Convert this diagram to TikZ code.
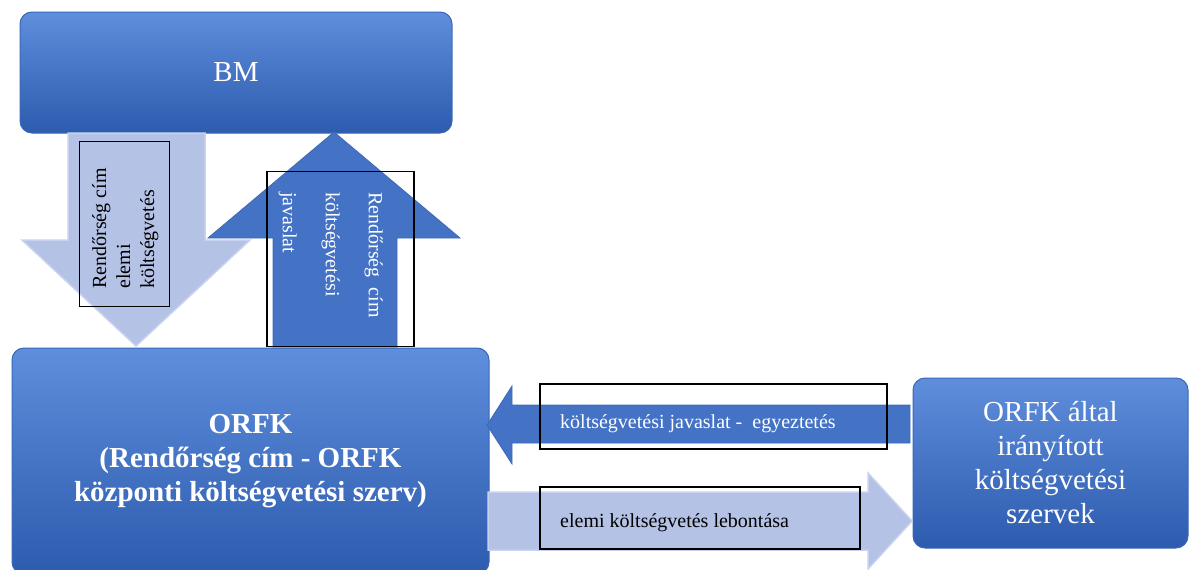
\documentclass[tikz,border=0pt]{standalone}
\usepackage{fontspec}
\setmainfont{Liberation Serif}
\definecolor{boxtop}{HTML}{5E8EDC}
\definecolor{boxbot}{HTML}{2D5BAE}
\definecolor{boxedge}{HTML}{3A67B8}
\definecolor{darkarr}{HTML}{4472C4}
\definecolor{darkedge}{HTML}{3E6AB8}
\definecolor{lightarr}{HTML}{B4C2E6}
\definecolor{lightedge}{HTML}{C8D2EE}
\tikzset{
  bluebox/.style={rounded corners=12pt, top color=boxtop, bottom color=boxbot, draw=boxedge, line width=1pt, text=white, align=center, inner sep=0pt, font=\fontsize{29}{34}\selectfont},
  darkarrow/.style={fill=darkarr, draw=darkedge, line width=0.8pt},
  lightarrow/.style={fill=lightarr, draw=lightedge, line width=1.5pt},
  labelframe/.style={draw=black, line width=1.2pt, inner sep=0pt},
  smalltext/.style={font=\fontsize{20}{24}\selectfont, inner sep=0pt},
}
\begin{document}
\begin{tikzpicture}[x=1pt,y=-1pt]
\useasboundingbox (0,0) rectangle (1192,570);
% boxes
\node[bluebox, minimum width=432pt, minimum height=121pt] (bm) at (236,72.5) {BM};
\node[bluebox, minimum width=477pt, minimum height=226pt] (orfk) at (250.5,461) {\bfseries ORFK\\\bfseries (Rendőrség cím - ORFK\\\bfseries központi költségvetési szerv)};
\node[bluebox, minimum width=275pt, minimum height=170pt] (sub) at (1050.5,463) {ORFK által\\irányított\\költségvetési\\szervek};
% vertical block arrows
\draw[lightarrow] (68,133) -- (205,133) -- (205,240) -- (250,240) -- (136,346) -- (22,240) -- (68,240) -- cycle;
\draw[darkarrow] (334,132) -- (460,238) -- (397,238) -- (397,347) -- (273,347) -- (273,238) -- (208,238) -- cycle;
% horizontal block arrows
\draw[darkarrow] (910,405) -- (512,405) -- (512,386) -- (487,425) -- (512,464) -- (512,443) -- (910,443) -- cycle;
\draw[lightarrow] (488,492) -- (868,492) -- (868,473) -- (912,521) -- (868,569) -- (868,550) -- (488,550) -- cycle;
% label frames
\node[labelframe, minimum width=90pt, minimum height=165pt] (f1) at (124.5,224) {};
\node[labelframe, minimum width=147pt, minimum height=175pt] (f2) at (340.5,259) {};
\node[labelframe, minimum width=347pt, minimum height=65pt] (f3) at (713.5,416.5) {};
\node[labelframe, minimum width=320pt, minimum height=62pt] (f4) at (700,518) {};
% labels
\node[smalltext, rotate=90, anchor=north west, align=left] (t1) at (92,289) {Rendőrség cím\\elemi\\költségvetés};
\node[smalltext, font=\fontsize{20}{43}\selectfont, text=white, rotate=-90, anchor=north west, align=left] (t2) at (383,192) {Rendőrség\ \ cím\\költségvetési\\javaslat};
\node[smalltext, text=white, anchor=west] (t3) at (560,424) {költségvetési javaslat -\ \ egyeztetés};
\node[smalltext, anchor=west] (t4) at (560,523) {elemi költségvetés lebontása};
\end{tikzpicture}
\end{document}
